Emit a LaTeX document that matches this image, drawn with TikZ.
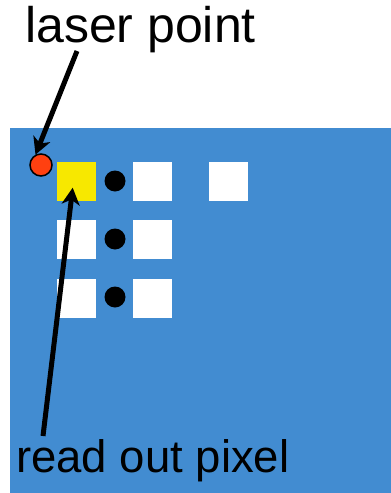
\documentclass[tikz,border=0pt]{standalone}
\usepackage{fontspec}
\setmainfont{Liberation Sans}
\usepackage{xcolor}
\usepackage{tikz}
\usetikzlibrary{arrows.meta, positioning}
\definecolor{sensorblue}{RGB}{66, 140, 209}
\definecolor{laserred}{RGB}{255, 64, 16}
\definecolor{pixelyellow}{RGB}{247, 232, 0}
\tikzstyle{pixel} = [
    rectangle,
    minimum width=39pt,
    minimum height=39pt,
    inner sep=0pt,
    fill=white
]
\tikzstyle{bump} = [
    circle,
    minimum size=21pt,
    inner sep=0pt,
    fill=black
]
\tikzstyle{label} = [
    anchor=base west,
    inner sep=0pt,
    text=black
]
\tikzstyle{arrow} = [
    line width=5pt,
    -{Stealth[length=17pt, width=18pt, inset=5pt]},
    color=black
]

\begin{document}
\begin{tikzpicture}[x=1pt, y=-1pt]
        \useasboundingbox (0, 0) rectangle (391, 493);

        % Sensor
        \fill[sensorblue] (10, 128) rectangle (391, 493);

        % Pixels
        \node[pixel, fill=pixelyellow] (readpix) at (76.5, 181.5) {};
        \node[pixel] (p12) at (152.5, 181.5) {};
        \node[pixel] (p13) at (228.5, 181.5) {};
        \node[pixel] (p21) at (76.5, 239.5) {};
        \node[pixel] (p22) at (152.5, 239.5) {};
        \node[pixel] (p31) at (76.5, 298.5) {};
        \node[pixel] (p32) at (152.5, 298.5) {};

        % Bump bonds
        \node[bump] (b1) at (115, 181) {};
        \node[bump] (b2) at (115, 239) {};
        \node[bump] (b3) at (115, 297) {};

        % Laser spot
        \node[circle, minimum size=22pt, inner sep=0pt, fill=laserred, draw=black, line width=1.5pt] (laserdot) at (41, 165) {};

        % Labels
        \node[label, font=\fontsize{50}{60}\selectfont] (lasertext) at (25, 42) {laser point};
        \node[label, font=\fontsize{45.5}{55}\selectfont] (readtext) at (16, 472) {read out pixel};

        % Arrows
        \coordinate (laserfoot) at (77, 51);
        \coordinate (readfoot) at (43, 436);
        \coordinate (readtip) at (72.7, 187.7);
        \draw[arrow] (laserfoot) -- (laserdot.118);
        \draw[arrow] (readfoot) -- (readtip);
    \end{tikzpicture}
\end{document}
